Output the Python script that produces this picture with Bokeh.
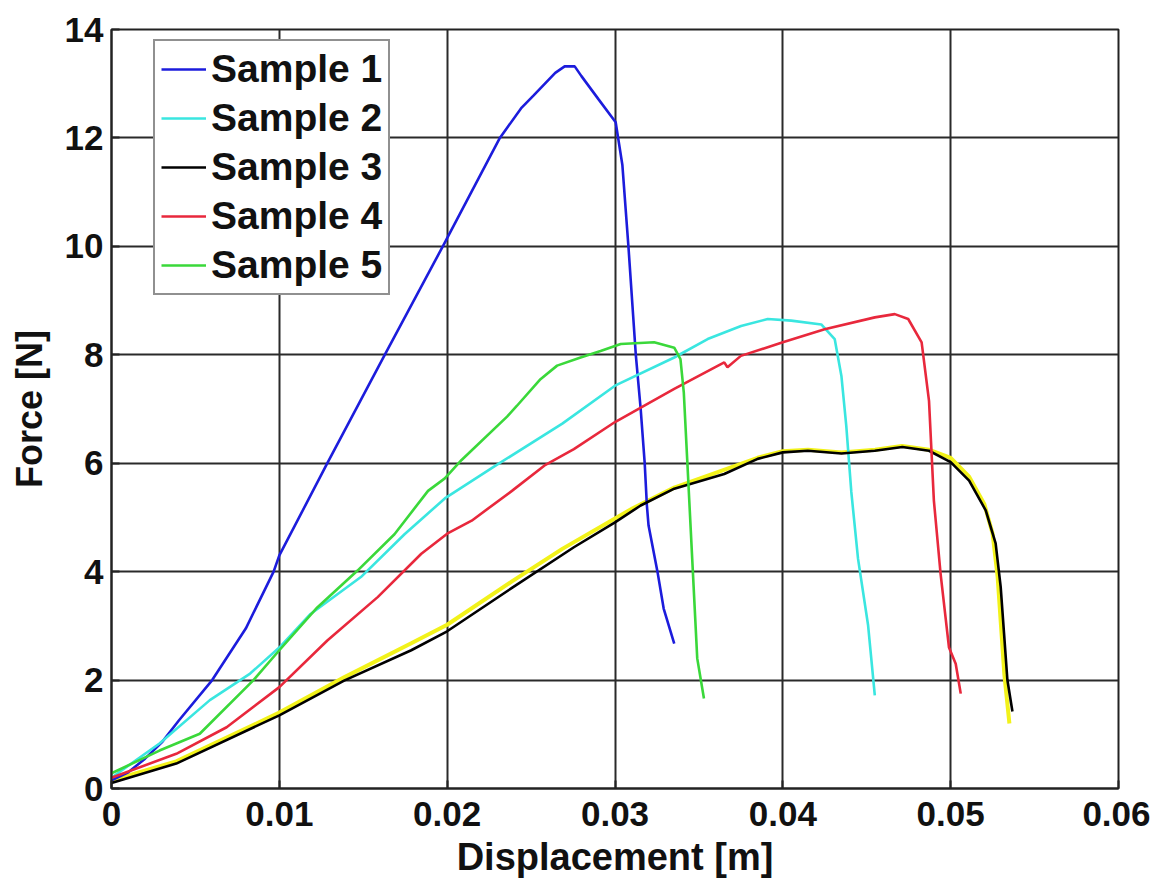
from bokeh.plotting import figure
from bokeh.models import FixedTicker, Legend, LegendItem
from bokeh.embed import file_html
from bokeh.resources import INLINE

# ---- data ----
x_ticks = [0, 0.01, 0.02, 0.03, 0.04, 0.05, 0.06]
x_tick_labels = ["0", "0.01", "0.02", "0.03", "0.04", "0.05", "0.06"]
y_ticks = [0, 2, 4, 6, 8, 10, 12, 14]
y_tick_labels = ["0", "2", "4", "6", "8", "10", "12", "14"]

s1_x = [0, 0.001, 0.002, 0.003, 0.004, 0.006, 0.008, 0.00966, 0.01, 0.01286, 0.01628, 0.01974,
        0.02314, 0.02444, 0.02514, 0.02644, 0.0270, 0.0276, 0.0280, 0.0290, 0.03004, 0.03044, 0.0308,
        0.03124, 0.03153, 0.03177, 0.0319, 0.0320, 0.03253, 0.0329, 0.03353]
s1_y = [0.15, 0.3, 0.55, 0.85, 1.25, 2.0, 2.95, 4.0, 4.3, 6.0, 8.0, 10.0,
        12.0, 12.56, 12.78, 13.2, 13.32, 13.32, 13.14, 12.72, 12.29, 11.5, 10.0,
        8.0, 7.0, 6.0, 5.22, 4.85, 4.0, 3.32, 2.67]

s2_x = [0, 0.00286, 0.00586, 0.00826, 0.01, 0.01186, 0.01486, 0.01746, 0.01986, 0.02286, 0.02686, 0.03,
        0.03353, 0.03552, 0.03751, 0.0391, 0.0405, 0.04229, 0.04309, 0.04349, 0.04378, 0.04408, 0.04448,
        0.04508, 0.04548]
s2_y = [0.2, 0.83, 1.63, 2.12, 2.6, 3.22, 3.9, 4.69, 5.35, 5.95, 6.73, 7.43,
        7.95, 8.29, 8.53, 8.66, 8.63, 8.56, 8.29, 7.61, 6.69, 5.47, 4.24,
        3.01, 1.72]

s3_x = [0, 0.00386, 0.01, 0.01386, 0.01786, 0.02, 0.02386, 0.02755, 0.03, 0.03153, 0.03353, 0.03651,
        0.0385, 0.04, 0.04149, 0.04349, 0.04548, 0.04712, 0.04871, 0.05, 0.0511, 0.05209, 0.05268,
        0.05298, 0.05318, 0.05338, 0.05368]
s3_y = [0.1, 0.46, 1.35, 1.99, 2.55, 2.9, 3.7, 4.45, 4.91, 5.22, 5.53, 5.8,
        6.08, 6.2, 6.23, 6.18, 6.23, 6.3, 6.23, 6.02, 5.68, 5.13, 4.52,
        3.72, 2.86, 2.0, 1.42]

s4_x = [0, 0.00386, 0.00686, 0.01, 0.01286, 0.01586, 0.01846, 0.02, 0.02146, 0.02386, 0.02586, 0.02755,
        0.03, 0.03353, 0.03651, 0.0367, 0.0375, 0.04, 0.04249, 0.04548, 0.04667, 0.04747, 0.04827,
        0.04871, 0.049, 0.0494, 0.0499, 0.0503, 0.0506]
s4_y = [0.2, 0.64, 1.13, 1.87, 2.73, 3.53, 4.33, 4.7, 4.94, 5.49, 5.97, 6.26,
        6.76, 7.37, 7.86, 7.77, 7.98, 8.23, 8.47, 8.69, 8.75, 8.66, 8.23,
        7.15, 5.31, 3.96, 2.6, 2.3, 1.75]

s5_x = [0, 0.00286, 0.00526, 0.00846, 0.01, 0.01226, 0.01466, 0.01686, 0.01886, 0.01986, 0.02086,
        0.02357, 0.02416, 0.02556, 0.02655, 0.02795, 0.02914, 0.03034, 0.03233, 0.03353, 0.0339,
        0.0341, 0.0343, 0.0346, 0.0349, 0.0353]
s5_y = [0.28, 0.7, 1.01, 2.0, 2.55, 3.34, 4.02, 4.69, 5.49, 5.72, 6.06,
        6.86, 7.06, 7.55, 7.8, 7.95, 8.07, 8.2, 8.23, 8.13, 7.92,
        7.3, 6.08, 4.24, 2.4, 1.66]

# unlabelled yellow trace lying under Sample 3
s6_x = [0, 0.00386, 0.01, 0.01386, 0.01786, 0.02, 0.02386, 0.02686, 0.03106, 0.03353, 0.0385, 0.04,
        0.0415, 0.0435, 0.0455, 0.0471, 0.0487, 0.05, 0.0511, 0.052, 0.0525, 0.0528, 0.053, 0.0532, 0.0535]
s6_y = [0.15, 0.5, 1.4, 2.05, 2.68, 3.02, 3.82, 4.42, 5.17, 5.55, 6.1, 6.22,
        6.25, 6.2, 6.25, 6.32, 6.25, 6.1, 5.75, 5.25, 4.7, 3.9, 3.0, 2.1, 1.2]

names = ["Sample 1", "Sample 2", "Sample 3", "Sample 4", "Sample 5"]
colors = ["#1c1cdc", "#3ae6e0", "#000000", "#e8283c", "#3ad83a"]

FONT = "Liberation Sans"

p = figure(frame_width=1007, frame_height=759,
           x_range=(0, 0.06), y_range=(0, 14),
           output_backend="svg", toolbar_location=None,
           min_border_left=111, min_border_right=32,
           min_border_top=29, min_border_bottom=80)
p.background_fill_color = "white"
p.border_fill_color = "white"
p.outline_line_color = "#222222"
p.outline_line_width = 2

for ax in (p.xaxis[0], p.yaxis[0]):
    ax.axis_line_color = "#222222"
    ax.axis_line_width = 2
    ax.major_tick_in = 8
    ax.major_tick_out = 0
    ax.major_tick_line_color = "#222222"
    ax.major_tick_line_width = 2
    ax.minor_tick_line_color = None
    ax.major_label_text_font = FONT
    ax.major_label_text_font_style = "bold"
    ax.major_label_text_font_size = "35px"
    ax.major_label_text_color = "#111111"
    ax.axis_label_text_font = FONT
    ax.axis_label_text_font_style = "bold"
    ax.axis_label_text_color = "#111111"

p.xaxis.ticker = FixedTicker(ticks=x_ticks)
p.yaxis.ticker = FixedTicker(ticks=y_ticks)
p.xaxis.major_label_overrides = {t: l for t, l in zip(x_ticks, x_tick_labels)}
p.yaxis.major_label_overrides = {t: l for t, l in zip(y_ticks, y_tick_labels)}
p.xaxis.major_label_standoff = 13
p.yaxis.major_label_standoff = 8
p.xaxis.axis_label = "Displacement [m]"
p.yaxis.axis_label = "Force [N]"
p.xaxis.axis_label_text_font_size = "38px"
p.yaxis.axis_label_text_font_size = "36px"
p.xaxis.axis_label_standoff = 7
p.yaxis.axis_label_standoff = 12

p.xgrid.ticker = FixedTicker(ticks=x_ticks)
p.ygrid.ticker = FixedTicker(ticks=y_ticks)
for g in (p.xgrid[0], p.ygrid[0]):
    g.grid_line_color = "#2a2a2a"
    g.grid_line_width = 2
    g.grid_line_alpha = 1.0

# yellow trace underneath
p.line(s6_x, s6_y, line_color="#f2f21a", line_width=4)

series = [(s1_x, s1_y), (s2_x, s2_y), (s3_x, s3_y), (s4_x, s4_y), (s5_x, s5_y)]
renderers = []
for (xs, ys), c in zip(series, colors):
    r = p.line(xs, ys, line_color=c, line_width=2.6)
    renderers.append(r)

legend = Legend(items=[LegendItem(label=n, renderers=[r]) for n, r in zip(names, renderers)],
                location=(42, 493))
legend.label_text_font = FONT
legend.label_text_font_style = "bold"
legend.label_text_font_size = "39px"
legend.label_text_color = "#111111"
legend.glyph_width = 45
legend.glyph_height = 42
legend.label_height = 42
legend.label_standoff = 5
legend.spacing = 5
legend.padding = 6
legend.margin = 0
legend.border_line_color = "#222222"
legend.border_line_width = 2
legend.background_fill_color = "white"
legend.background_fill_alpha = 1.0
p.add_layout(legend, "center")

open("out.html", "w").write(file_html(p, INLINE))
